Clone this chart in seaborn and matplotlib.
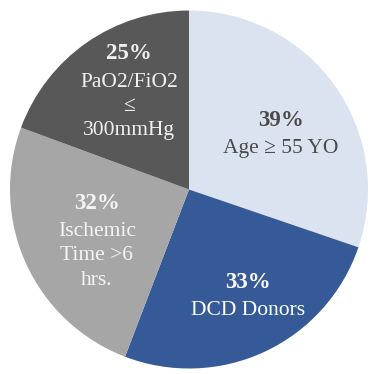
import matplotlib
matplotlib.use("Agg")
import matplotlib.pyplot as plt
import numpy as np
import seaborn as sns
from matplotlib.offsetbox import TextArea, VPacker, AnnotationBbox

# Share of donors in each risk category (%)
categories = ["Age \u2265 55 YO", "DCD Donors", "Ischemic\nTime >6\nhrs.", "PaO2/FiO2\n\u2264\n300mmHg"]
percents = [39, 33, 32, 25]

sns.set_theme(style="white")
plt.rcParams["font.family"] = ["Liberation Serif", "DejaVu Serif"]

slice_colors = sns.color_palette(["#dce3f0", "#355a97", "#a6a6a6", "#585858"])
text_colors = ["#4b4b4b", "#ffffff", "#f4f4f4", "#f0f0f0"]
# label block placement: fraction of radius, and angular nudge (degrees, clockwise)
label_radius = [0.60, 0.68, 0.59, 0.64]
label_nudge = [4.3, -4.1, -4.8, 3.4]

fig = plt.figure(figsize=(3.70, 3.74), dpi=100)
cx, cy, rad = 189, 189.5, 179
W, H = 370, 374
ax = fig.add_axes([(cx - rad) / W, (H - cy - rad) / H, 2 * rad / W, 2 * rad / H])

wedges, _ = ax.pie(percents, colors=slice_colors, startangle=90, counterclock=False,
                   wedgeprops=dict(linewidth=0))
ax.set_xlim(-1, 1)
ax.set_ylim(-1, 1)
ax.set_aspect("auto")
ax.axis("off")

for w, pct, lab, tc, r, nd in zip(wedges, percents, categories, text_colors,
                                  label_radius, label_nudge):
    mid = np.deg2rad((w.theta1 + w.theta2) / 2 - nd)
    pos = (r * np.cos(mid), r * np.sin(mid))
    top = TextArea(f"{pct}%", textprops=dict(color=tc, fontsize=16.5, fontweight="bold"))
    body = TextArea(lab, textprops=dict(color=tc, fontsize=15.5, ha="center",
                                        multialignment="center", linespacing=1.38))
    box = VPacker(children=[top, body], align="center", pad=0, sep=6)
    ab = AnnotationBbox(box, pos, frameon=False, box_alignment=(0.5, 0.5))
    ax.add_artist(ab)

fig.savefig("out.png", dpi=100, facecolor="white")
